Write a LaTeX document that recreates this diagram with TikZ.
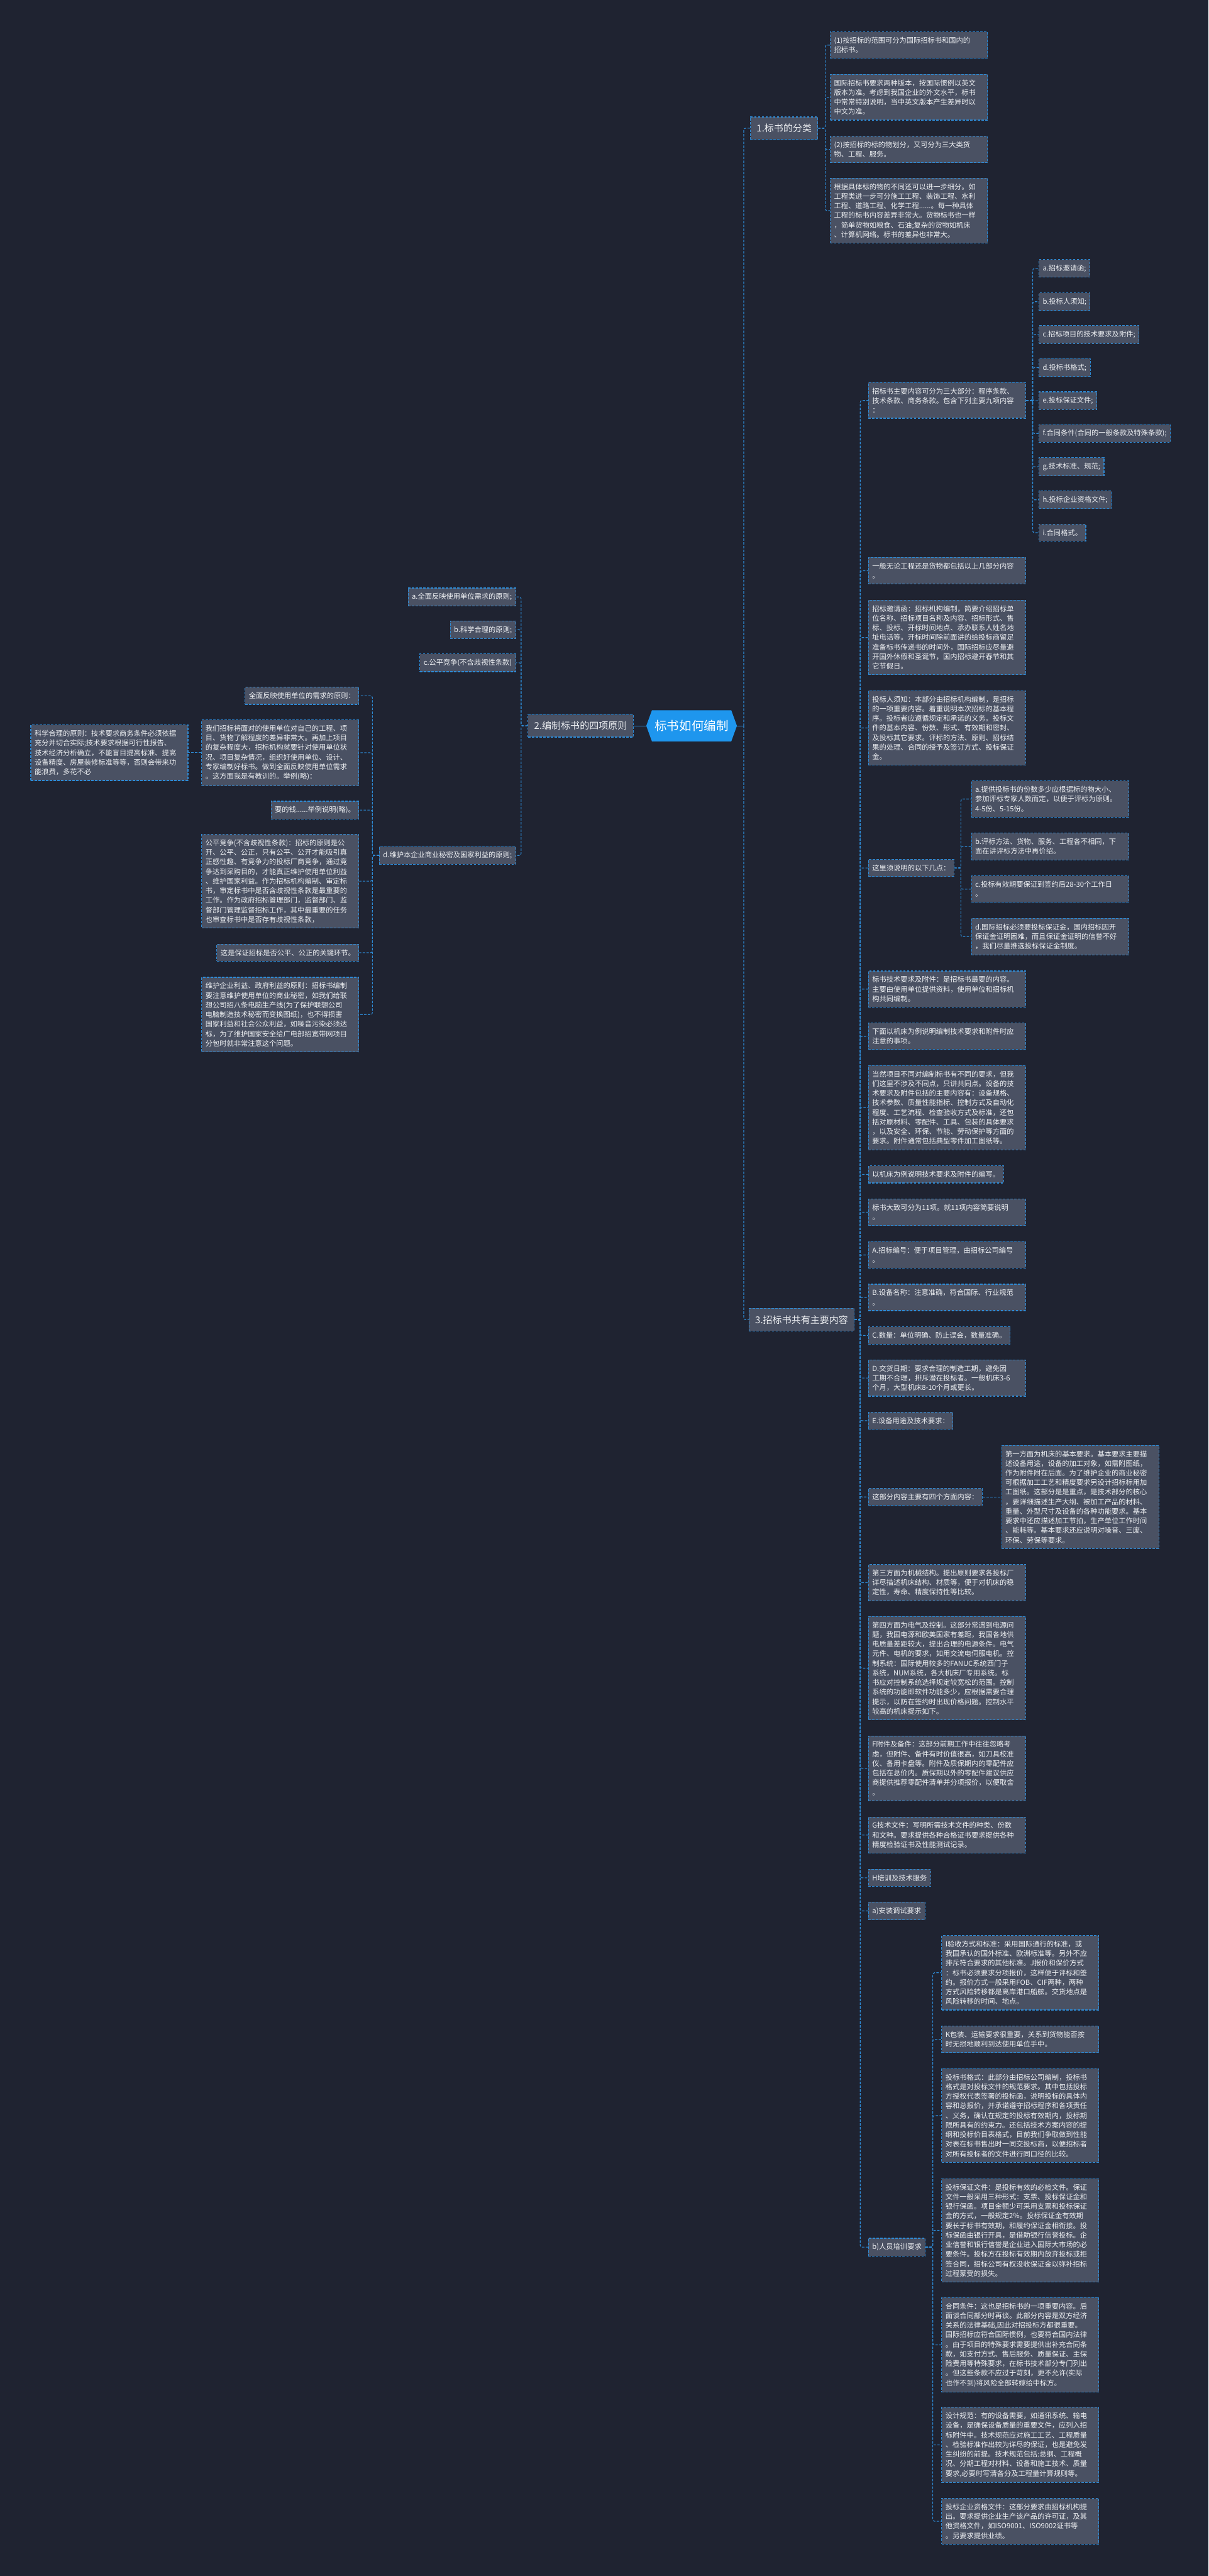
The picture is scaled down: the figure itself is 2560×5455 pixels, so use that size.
\documentclass[tikz,border=0pt]{standalone}
\usepackage{fontspec}
\setmainfont{Noto Sans CJK SC}
\usetikzlibrary{shapes.symbols}
\definecolor{bg}{HTML}{1F2331}
\definecolor{boxfill}{HTML}{4A5163}
\definecolor{edge}{HTML}{2E8BD6}
\definecolor{txt}{HTML}{EEF0F3}
\definecolor{rootfill}{HTML}{1E96EE}
\tikzset{
  base/.style={draw=edge, fill=boxfill, text=txt, line width=0.75pt,
    dash pattern=on 2.5pt off 1.5pt, font=\fontsize{7.5}{10.15}\selectfont,
    inner xsep=4pt, inner ysep=5.5pt, align=left},
  pbox/.style={base, text width=158.5pt},
  nbox/.style={base},
  secbox/.style={base, font=\fontsize{10}{12}\selectfont, inner xsep=6.5pt, inner ysep=7.25pt},
  rootbox/.style={signal, signal to=west and east, signal pointer angle=140, fill=rootfill, text=white,
    font=\fontsize{13}{15}\selectfont, minimum width=96pt, minimum height=33pt, inner xsep=2pt, inner ysep=0pt},
  conn/.style={draw=edge, line width=0.75pt, dash pattern=on 2.5pt off 1.5pt, rounded corners=2pt},
  solidconn/.style={draw=edge, line width=0.75pt},
}
\newcommand\rconn[3]{\draw[conn] (#1.east) -- ++(#3,0) |- (#2.west);}
\newcommand\lconn[3]{\draw[conn] (#1.west) -- ++(-#3,0) |- (#2.east);}
\begin{document}
\begin{tikzpicture}[x=0.5pt,y=-0.5pt]
\fill[bg] (0,0) rectangle (2560,5455);
\useasboundingbox (0,0) rectangle (2560,5455);

\node[rootbox] (root) at (1465,1537) {标书如何编制};
\node[secbox, anchor=west] (s1) at (1589,271.5) {1.标书的分类};
\node[secbox, anchor=east] (s2) at (1342,1537) {2.编制标书的四项原则};
\node[secbox, anchor=west] (s3) at (1586,2794.5) {3.招标书共有主要内容};

% ---------- section 1
\node[pbox, anchor=west] (s1a) at (1758,95.5) {(1)按招标的范围可分为国际招标书和国内的\\招标书。};
\node[pbox, anchor=west] (s1b) at (1758,206) {国际招标书要求两种版本，按国际惯例以英文\\版本为准。考虑到我国企业的外文水平，标书\\中常常特别说明，当中英文版本产生差异时以\\中文为准。};
\node[pbox, anchor=west] (s1c) at (1758,316.5) {(2)按招标的标的物划分，又可分为三大类货\\物、工程、服务。};
\node[pbox, anchor=west] (s1d) at (1758,446) {根据具体标的物的不同还可以进一步细分。如\\工程类进一步可分施工工程、装饰工程、水利\\工程、道路工程、化学工程......。每一种具体\\工程的标书内容差异非常大。货物标书也一样\\，简单货物如粮食、石油;复杂的货物如机床\\、计算机网络。标书的差异也非常大。};

% ---------- section 2
\node[nbox, anchor=east] (s2a) at (1093,1264) {a.全面反映使用单位需求的原则;};
\node[nbox, anchor=east] (s2b) at (1093,1333.5) {b.科学合理的原则;};
\node[nbox, anchor=east] (s2c) at (1093,1403.5) {c.公平竞争(不含歧视性条款)};
\node[nbox, anchor=east] (s2d) at (1093,1811.5) {d.维护本企业商业秘密及国家利益的原则;};

\node[nbox, anchor=east] (d1) at (761,1473.5) {全面反映使用单位的需求的原则：};
\node[pbox, anchor=east] (d2) at (761,1594) {我们招标将面对的使用单位对自己的工程、项\\目、货物了解程度的差异非常大。再加上项目\\的复杂程度大，招标机构就要针对使用单位状\\况、项目复杂情况，组织好使用单位、设计、\\专家编制好标书。做到全面反映使用单位需求\\。这方面我是有教训的。举例(略)：};
\node[pbox, anchor=east] (d2a) at (399,1594) {科学合理的原则：技术要求商务条件必须依据\\充分并切合实际;技术要求根据可行性报告、\\技术经济分析确立，不能盲目提高标准、提高\\设备精度、房屋装修标准等等，否则会带来功\\能浪费，多花不必};
\node[nbox, anchor=east] (d3) at (761,1715.5) {要的钱......举例说明(略)。};
\node[pbox, anchor=east] (d4) at (761,1866) {公平竞争(不含歧视性条款)：招标的原则是公\\开、公平、公正，只有公平、公开才能吸引真\\正感性趣、有竞争力的投标厂商竞争，通过竞\\争达到采购目的，才能真正维护使用单位利益\\、维护国家利益。作为招标机构编制、审定标\\书，审定标书中是否含歧视性条款是最重要的\\工作。作为政府招标管理部门，监督部门、监\\督部门管理监督招标工作，其中最重要的任务\\也审查标书中是否存有歧视性条款，};
\node[nbox, anchor=east] (d5) at (761,2017.5) {这是保证招标是否公平、公正的关键环节。};
\node[pbox, anchor=east] (d6) at (761,2148.5) {维护企业利益、政府利益的原则：招标书编制\\要注意维护使用单位的商业秘密，如我们给联\\想公司招八条电脑生产线(为了保护联想公司\\电脑制造技术秘密而变换图纸)，也不得损害\\国家利益和社会公众利益，如噪音污染必须达\\标，为了维护国家安全给广电部招宽带网项目\\分包时就非常注意这个问题。};

% ---------- section 3
\node[pbox, anchor=west] (t1) at (1839,848) {招标书主要内容可分为三大部分：程序条款、\\技术条款、商务条款。包含下列主要九项内容\\：};
\node[nbox, anchor=west] (t1a) at (2200,568.5) {a.招标邀请函;};
\node[nbox, anchor=west] (t1b) at (2200,639) {b.投标人须知;};
\node[nbox, anchor=west] (t1c) at (2200,708.5) {c.招标项目的技术要求及附件;};
\node[nbox, anchor=west] (t1d) at (2200,778.5) {d.投标书格式;};
\node[nbox, anchor=west] (t1e) at (2200,848.5) {e.投标保证文件;};
\node[nbox, anchor=west] (t1f) at (2200,918) {f.合同条件(合同的一般条款及特殊条款);};
\node[nbox, anchor=west] (t1g) at (2200,988.5) {g.技术标准、规范;};
\node[nbox, anchor=west] (t1h) at (2200,1058.5) {h.投标企业资格文件;};
\node[nbox, anchor=west] (t1i) at (2200,1128) {i.合同格式。};

\node[pbox, anchor=west] (t2) at (1839,1208.5) {一般无论工程还是货物都包括以上几部分内容\\。};
\node[pbox, anchor=west] (t3) at (1839,1350) {招标邀请函：招标机构编制，简要介绍招标单\\位名称、招标项目名称及内容、招标形式、售\\标、投标、开标时间地点、承办联系人姓名地\\址电话等。开标时间除前面讲的给投标商留足\\准备标书传递书的时间外，国际招标应尽量避\\开国外休假和圣诞节，国内招标避开春节和其\\它节假日。};
\node[pbox, anchor=west] (t4) at (1839,1541.5) {投标人须知：本部分由招标机构编制，是招标\\的一项重要内容。着重说明本次招标的基本程\\序。投标者应遵循规定和承诺的义务。投标文\\件的基本内容、份数、形式、有效期和密封、\\及投标其它要求。评标的方法、原则、招标结\\果的处理、合同的授予及签订方式、投标保证\\金。};
\node[nbox, anchor=west] (t5) at (1839,1838) {这里须说明的以下几点：};
\node[pbox, anchor=west] (t5a) at (2057,1692) {a.提供投标书的份数多少应根据标的物大小、\\参加评标专家人数而定，以便于评标为原则。\\4-5份、5-15份。};
\node[pbox, anchor=west] (t5b) at (2057,1792.5) {b.评标方法、货物、服务、工程各不相同，下\\面在讲评标方法中再价绍。};
\node[pbox, anchor=west] (t5c) at (2057,1883) {c.投标有效期要保证到签约后28-30个工作日\\。};
\node[pbox, anchor=west] (t5d) at (2057,1983.5) {d.国际招标必须要投标保证金，国内招标因开\\保证金证明困难，而且保证金证明的信誉不好\\，我们尽量推选投标保证金制度。};
\node[pbox, anchor=west] (t6) at (1839,2094.5) {标书技术要求及附件：是招标书最要的内容。\\主要由使用单位提供资料，使用单位和招标机\\构共同编制。};
\node[pbox, anchor=west] (t7) at (1839,2194.5) {下面以机床为例说明编制技术要求和附件时应\\注意的事项。};
\node[pbox, anchor=west] (t8) at (1839,2345.5) {当然项目不同对编制标书有不同的要求，但我\\们这里不涉及不同点，只讲共同点。设备的技\\术要求及附件包括的主要内容有：设备规格、\\技术参数、质量性能指标、控制方式及自动化\\程度、工艺流程、检查验收方式及标准，还包\\括对原材料、零配件、工具、包装的具体要求\\，以及安全、环保、节能、劳动保护等方面的\\要求。附件通常包括典型零件加工图纸等。};
\node[nbox, anchor=west] (t9) at (1839,2487) {以机床为例说明技术要求及附件的编写。};
\node[pbox, anchor=west] (t10) at (1839,2567) {标书大致可分为11项。就11项内容简要说明\\。};
\node[pbox, anchor=west] (t11) at (1839,2657.5) {A.招标编号：便于项目管理，由招标公司编号\\。};
\node[pbox, anchor=west] (t12) at (1839,2747.5) {B.设备名称：注意准确，符合国际、行业规范\\。};
\node[nbox, anchor=west] (t13) at (1839,2828) {C.数量：单位明确、防止误会，数量准确。};
\node[pbox, anchor=west] (t14) at (1839,2918) {D.交货日期：要求合理的制造工期，避免因\\工期不合理，排斥潜在投标者。一般机床3-6\\个月，大型机床8-10个月或更长。};
\node[nbox, anchor=west] (t15) at (1839,3008.5) {E.设备用途及技术要求：};
\node[nbox, anchor=west] (t16) at (1839,3170) {这部分内容主要有四个方面内容：};
\node[pbox, anchor=west] (t16a) at (2121,3170) {第一方面为机床的基本要求。基本要求主要描\\述设备用途，设备的加工对象，如需附图纸，\\作为附件附在后面。为了维护企业的商业秘密\\可根据加工工艺和精度要求另设计招标标用加\\工图纸。这部分是是重点，是技术部分的核心\\，要详细描述生产大纲、被加工产品的材料、\\重量、外型尺寸及设备的各种功能要求。基本\\要求中还应描述加工节拍，生产单位工作时间\\、能耗等。基本要求还应说明对噪音、三废、\\环保、劳保等要求。};
\node[pbox, anchor=west] (t17) at (1839,3351.5) {第三方面为机械结构。提出原则要求各投标厂\\详尽描述机床结构、材质等，便于对机床的稳\\定性，寿命、精度保持性等比较。};
\node[pbox, anchor=west] (t18) at (1839,3532.5) {第四方面为电气及控制。这部分常遇到电源问\\题，我国电源和欧美国家有差距，我国各地供\\电质量差距较大，提出合理的电源条件。电气\\元件、电机的要求，如用交流电伺服电机。控\\制系统：国际使用较多的FANUC系统西门子\\系统，NUM系统，各大机床厂专用系统。标\\书应对控制系统选择规定较宽松的范围。控制\\系统的功能即软件功能多少，应根据需要合理\\提示，以防在签约时出现价格问题。控制水平\\较高的机床提示如下。};
\node[pbox, anchor=west] (t19) at (1839,3744.5) {F附件及备件：这部分前期工作中往往忽略考\\虑，但附件、备件有时价值很高，如刀具校准\\仪、备用卡盘等。附件及质保期内的零配件应\\包括在总价内。质保期以外的零配件建议供应\\商提供推荐零配件清单并分项报价，以便取舍\\。};
\node[pbox, anchor=west] (t20) at (1839,3886) {G技术文件：写明所需技术文件的种类、份数\\和文种。要求提供各种合格证书要求提供各种\\精度检验证书及性能测试记录。};
\node[nbox, anchor=west] (t21) at (1839,3976.5) {H培训及技术服务};
\node[nbox, anchor=west] (t22) at (1839,4046.5) {a)安装调试要求};
\node[nbox, anchor=west] (t23) at (1839,4758.5) {b)人员培训要求};
\node[pbox, anchor=west] (u1) at (1994,4177.5) {I验收方式和标准：采用国际通行的标准，或\\我国承认的国外标准、欧洲标准等。另外不应\\排斥符合要求的其他标准。J报价和保价方式\\：标书必须要求分项报价，这样便于评标和签\\约。报价方式一般采用FOB、CIF两种，两种\\方式风险转移都是离岸港口船舷。交货地点是\\风险转移的时间、地点。};
\node[pbox, anchor=west] (u2) at (1994,4318.5) {K包装、运输要求很重要，关系到货物能否按\\时无损地顺利到达使用单位手中。};
\node[pbox, anchor=west] (u3) at (1994,4480) {投标书格式：此部分由招标公司编制，投标书\\格式是对投标文件的规范要求。其中包括投标\\方授权代表签署的投标函，说明投标的具体内\\容和总报价，并承诺遵守招标程序和各项责任\\、义务，确认在规定的投标有效期内，投标期\\限所具有的约束力。还包括技术方案内容的提\\纲和投标价目表格式，目前我们争取做到性能\\对表在标书售出时一同交投标商，以便招标者\\对所有投标者的文件进行同口径的比较。};
\node[pbox, anchor=west] (u4) at (1994,4723) {投标保证文件：是投标有效的必检文件。保证\\文件一般采用三种形式：支票、投标保证金和\\银行保函。项目金额少可采用支票和投标保证\\金的方式，一般规定2\%。投标保证金有效期\\要长于标书有效期，和履约保证金相衔接。投\\标保函由银行开具，是借助银行信誉投标。企\\业信誉和银行信誉是企业进入国际大市场的必\\要条件。投标方在投标有效期内放弃投标或拒\\签合同，招标公司有权没收保证金以弥补招标\\过程蒙受的损失。};
\node[pbox, anchor=west] (u5) at (1994,4965.5) {合同条件：这也是招标书的一项重要内容。后\\面谈合同部分时再谈。此部分内容是双方经济\\关系的法律基础,因此对招投标方都很重要。\\国际招标应符合国际惯例，也要符合国内法律\\。由于项目的特殊要求需要提供出补充合同条\\款，如支付方式、售后服务、质量保证、主保\\险费用等特殊要求，在标书技术部分专门列出\\。但这些条款不应过于苛刻，更不允许(实际\\也作不到)将风险全部转嫁给中标方。};
\node[pbox, anchor=west] (u6) at (1994,5177.5) {设计规范：有的设备需要，如通讯系统、输电\\设备，是确保设备质量的重要文件，应列入招\\标附件中。技术规范应对施工工艺、工程质量\\、检验标准作出较为详尽的保证，也是避免发\\生纠纷的前提。技术规范包括:总纲、工程概\\况、分期工程对材料、设备和施工技术、质量\\要求,必要时写清各分及工程量计算规则等。};
\node[pbox, anchor=west] (u7) at (1994,5339) {投标企业资格文件：这部分要求由招标机构提\\出。要求提供企业生产该产品的许可证，及其\\他资格文件，如ISO9001、ISO9002证书等\\。另要求提供业绩。};

% ---------- connectors
\draw[solidconn] (root.east) -- ++(14,0) coordinate (rj);
\draw[conn] (rj) |- (s1.west);
\draw[conn] (rj) |- (s3.west);
\draw[solidconn] (root.west) -- (s2.east);
\foreach \c in {s1a,s1b,s1c,s1d} {\rconn{s1}{\c}{15}}
\foreach \c in {s2a,s2b,s2c,s2d} {\lconn{s2}{\c}{14}}
\foreach \c in {d1,d2,d3,d4,d5,d6} {\lconn{s2d}{\c}{14}}
\draw[conn] (d2.west) -- (d2a.east);
\foreach \c in {t1,t2,t3,t4,t5,t6,t7,t8,t9,t10,t11,t12,t13,t14,t15,t16,t17,t18,t19,t20,t21,t22,t23} {\rconn{s3}{\c}{12}}
\foreach \c in {t1a,t1b,t1c,t1d,t1e,t1f,t1g,t1h,t1i} {\rconn{t1}{\c}{14}}
\foreach \c in {t5a,t5b,t5c,t5d} {\rconn{t5}{\c}{14}}
\draw[conn] (t16.east) -- (t16a.west);
\foreach \c in {u1,u2,u3,u4,u5,u6,u7} {\rconn{t23}{\c}{15}}
\end{tikzpicture}
\end{document}
